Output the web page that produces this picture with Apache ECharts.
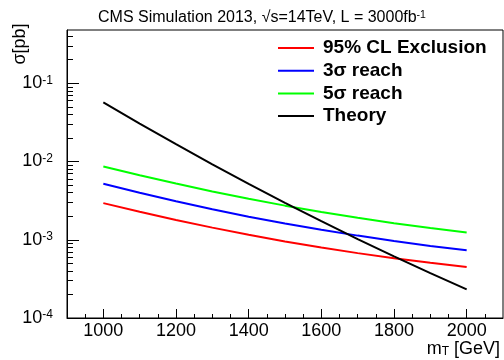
<!DOCTYPE html>
<html><head><meta charset="utf-8">
<script src="https://cdn.jsdelivr.net/npm/echarts@6/dist/echarts.min.js"></script>
<style>html,body{margin:0;padding:0;background:#fff}#c{width:504px;height:360px}</style>
</head><body><div id="c"></div>
<script>
const masses = [1000, 1100, 1200, 1300, 1400, 1500, 1600, 1700, 1800, 1900, 2000];
const exclusion95 = [0.00294, 0.00228, 0.00179, 0.00143, 0.00116, 0.000951, 0.000796, 0.000675, 0.000581, 0.000508, 0.000450];
const reach3sigma = [0.00520, 0.00399, 0.00311, 0.00246, 0.00197, 0.00161, 0.00134, 0.00113, 0.000962, 0.000834, 0.000735];
const reach5sigma = [0.00864, 0.00667, 0.00523, 0.00415, 0.00335, 0.00273, 0.00227, 0.00191, 0.00163, 0.00141, 0.00124];
const theory = [0.0569, 0.0306, 0.0167, 0.00921, 0.00518, 0.00297, 0.00173, 0.00102, 0.000613, 0.000374, 0.000232];
const seriesNames = ['95% CL Exclusion', '3σ reach', '5σ reach', 'Theory'];
const xTickLabels = [1000, 1200, 1400, 1600, 1800, 2000];
const yTickLabels = [1e-4, 1e-3, 1e-2, 1e-1];

const xMin = 900, xMax = 2100, yMin = 1e-4, yMax = 0.48;
const xMinor = [];
for (let v = 950; v < xMax; v += 50) if (v % 200 !== 0) xMinor.push(v);
const yMinor = [];
for (let e = -4; e <= -1; e++) for (let m = 2; m <= 9; m++) { const v = m * Math.pow(10, e); if (v <= yMax) yMinor.push(+v.toPrecision(3)); }

const FONT = 'Liberation Sans';
const pairs = arr => masses.map((m, i) => [m, arr[i]]);
const colors = ['#ff0000', '#0000ff', '#00ff00', '#000000'];
const datas = [exclusion95, reach3sigma, reach5sigma, theory];

const chart = echarts.init(document.getElementById('c'), null, {renderer: 'canvas'});
chart.setOption({
  animation: false,
  backgroundColor: '#fff',
  title: {
    text: '{a|CMS Simulation 2013, √s=14TeV, L = 3000fb}{s|-1}',
    left: 93, top: 5,
    textStyle: {
      rich: {
        a: {fontFamily: FONT, fontSize: 16, color: '#000', fontWeight: 'normal'},
        s: {fontFamily: FONT, fontSize: 10.5, color: '#000', verticalAlign: 'top', fontWeight: 'normal'}
      }
    }
  },
  legend: {
    orient: 'vertical', left: 272, top: 33,
    itemWidth: 36, itemHeight: 20, itemGap: 2.7,
    data: seriesNames,
    itemStyle: {opacity: 0, borderWidth: 0},
    textStyle: {fontFamily: FONT, fontSize: 19, fontWeight: 'bold', color: '#000', lineHeight: 20, padding: [0, 0, 0, 4]}
  },
  grid: {left: 67, right: 1, top: 30, bottom: 42, show: true, borderColor: '#000', borderWidth: 1, backgroundColor: 'transparent'},
  xAxis: [{
    type: 'value', min: xMin, max: xMax,
    axisLine: {show: true, lineStyle: {color: '#000', width: 1}},
    splitLine: {show: false},
    axisTick: {show: true, inside: true, length: 9, customValues: xTickLabels, lineStyle: {color: '#000'}},
    axisLabel: {show: true, customValues: xTickLabels, margin: 4, fontFamily: FONT, fontSize: 18, color: '#000', formatter: v => String(v)},
    name: '{m|m}{t|T}{g| [GeV]}', nameLocation: 'end', nameGap: -3,
    nameTextStyle: {align: 'right', verticalAlign: 'top', padding: [22, 0, 0, 0],
      rich: {
        m: {fontFamily: FONT, fontSize: 18, color: '#000'},
        t: {fontFamily: FONT, fontSize: 12, color: '#000', verticalAlign: 'bottom'},
        g: {fontFamily: FONT, fontSize: 18, color: '#000'}
      }}
  }, {
    type: 'value', min: xMin, max: xMax, position: 'bottom',
    axisLine: {show: false}, splitLine: {show: false}, axisLabel: {show: false},
    axisTick: {show: true, inside: true, length: 4, customValues: xMinor, lineStyle: {color: '#000'}}
  }],
  yAxis: [{
    type: 'log', logBase: 10, min: yMin, max: yMax,
    axisLine: {show: true, lineStyle: {color: '#000', width: 1}},
    splitLine: {show: false},
    axisTick: {show: true, inside: true, length: 12, customValues: yTickLabels, lineStyle: {color: '#000'}},
    axisLabel: {
      show: true, customValues: yTickLabels, margin: 14,
      formatter: v => '{b|10}{e|' + Math.round(Math.log10(v)) + '}',
      rich: {
        b: {fontFamily: FONT, fontSize: 18, color: '#000'},
        e: {fontFamily: FONT, fontSize: 12, color: '#000', verticalAlign: 'top'}
      }
    }
  }, {
    type: 'log', logBase: 10, min: yMin, max: yMax, position: 'left',
    axisLine: {show: false}, splitLine: {show: false}, axisLabel: {show: false},
    axisTick: {show: true, inside: true, length: 6, customValues: yMinor, lineStyle: {color: '#000'}}
  }],
  graphic: [{
    type: 'text', x: 20, y: 44, rotation: Math.PI / 2,
    style: {text: 'σ[pb]', fontFamily: FONT, fontSize: 18, fill: '#000', align: 'center', verticalAlign: 'middle'}
  }],
  series: seriesNames.map((n, i) => ({
    name: n, type: 'line', data: pairs(datas[i]), symbol: 'none', smooth: false,
    xAxisIndex: 0, yAxisIndex: 0,
    lineStyle: {color: colors[i], width: 2}, itemStyle: {color: colors[i]}
  }))
});
</script></body></html>
